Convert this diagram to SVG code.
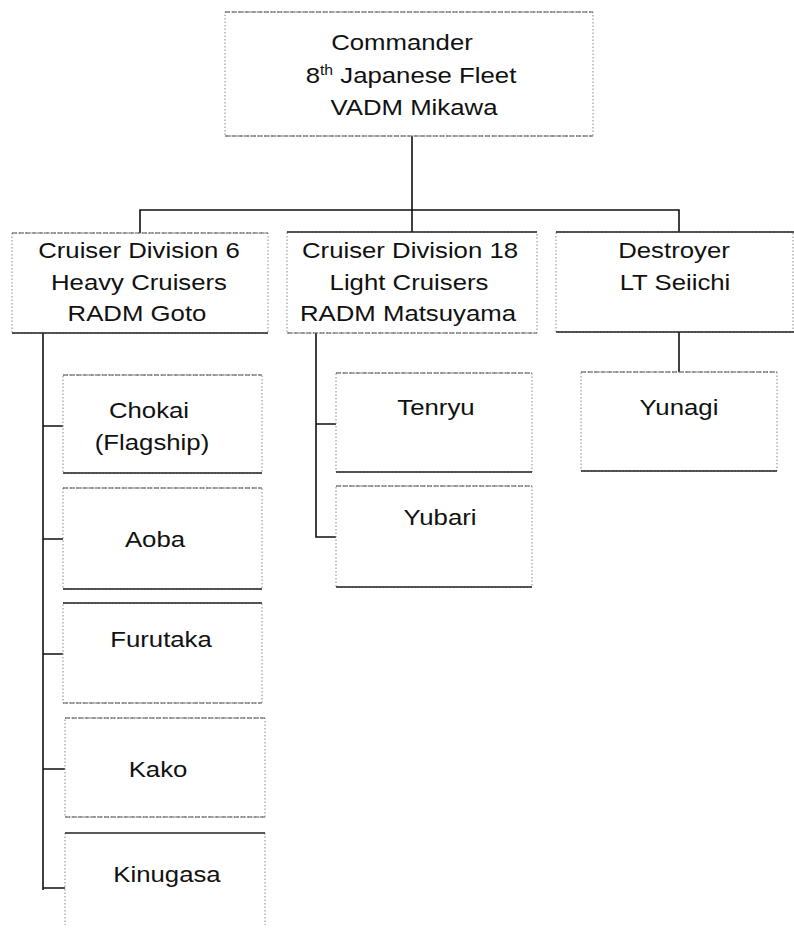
<svg xmlns="http://www.w3.org/2000/svg" width="794" height="928" viewBox="0 0 794 928">
<style>
.bg{fill:#fff}
.box{fill:none;stroke:#8a8a8a;stroke-width:1;stroke-dasharray:1.5 2}
.edge{stroke:#555;stroke-width:1.2;stroke-dasharray:5 1.5;fill:none}
.solid{stroke:#222;stroke-width:1.3;fill:none}
.con{stroke:#111;stroke-width:1.6;fill:none}
text{font-family:"Liberation Sans",Arial,sans-serif;font-size:23px;fill:#111;text-anchor:middle}
</style>
<rect class="bg" x="0" y="0" width="794" height="928"/>

<g id="connectors">
<path class="con" d="M412 136V232"/>
<path class="con" d="M140 233V210H679V232"/>
<path class="con" d="M43 333V890"/>
<path class="con" d="M43 426H63M43 539H63M43 654H63M43 769H65M43 888H65"/>
<path class="con" d="M316 333V537H336M316 424H336"/>
<path class="con" d="M679 332V372"/>
</g>

<g id="commander">
<rect class="box" x="225" y="12" width="368" height="124"/>
<path class="edge" d="M225 12H593M225 136H593"/>
<text transform="translate(402,50) scale(1.12,1)">Commander</text>
<text transform="translate(411,83) scale(1.12,1)">8<tspan font-size="14" dy="-8">th</tspan><tspan dy="8"> Japanese Fleet</tspan></text>
<text transform="translate(414,115) scale(1.12,1)">VADM Mikawa</text>
</g>

<g id="crudiv6">
<rect class="box" x="12" y="233" width="256" height="100"/>
<path class="edge" d="M12 233H268"/>
<path class="solid" d="M12 333H268"/>
<text transform="translate(139,258) scale(1.12,1)">Cruiser Division 6</text>
<text transform="translate(139,290) scale(1.12,1)">Heavy Cruisers</text>
<text transform="translate(137,321) scale(1.12,1)">RADM Goto</text>
</g>

<g id="crudiv18">
<rect class="box" x="287" y="232" width="250" height="101"/>
<path class="solid" d="M287 232H537"/>
<path class="edge" d="M287 333H537"/>
<text transform="translate(410,258) scale(1.12,1)">Cruiser Division 18</text>
<text transform="translate(409,290) scale(1.12,1)">Light Cruisers</text>
<text transform="translate(408,321) scale(1.12,1)">RADM Matsuyama</text>
</g>

<g id="destroyer">
<rect class="box" x="556" y="232" width="237" height="100"/>
<path class="solid" d="M556 232H794M556 332H794"/>
<text transform="translate(674,258) scale(1.12,1)">Destroyer</text>
<text transform="translate(675,290) scale(1.12,1)">LT Seiichi</text>
</g>

<g id="chokai">
<rect class="box" x="63" y="375" width="199" height="98"/>
<path class="edge" d="M63 375H262"/>
<path class="solid" d="M63 473H262"/>
<text transform="translate(149,418) scale(1.12,1)">Chokai</text>
<text transform="translate(152,450) scale(1.12,1)">(Flagship)</text>
</g>

<g id="aoba">
<rect class="box" x="63" y="488" width="199" height="101"/>
<path class="edge" d="M63 488H262"/>
<path class="solid" d="M63 589H262"/>
<text transform="translate(155,547) scale(1.12,1)">Aoba</text>
</g>

<g id="furutaka">
<rect class="box" x="63" y="603" width="199" height="100"/>
<path class="solid" d="M63 603H262"/>
<path class="edge" d="M63 703H262"/>
<text transform="translate(161,647) scale(1.12,1)">Furutaka</text>
</g>

<g id="kako">
<rect class="box" x="65" y="718" width="200" height="99"/>
<path class="edge" d="M65 718H265M65 817H265"/>
<text transform="translate(158,777) scale(1.12,1)">Kako</text>
</g>

<g id="kinugasa">
<path class="box" d="M65 833V925M265 833V925"/>
<path class="solid" d="M65 833H265"/>
<text transform="translate(167,882) scale(1.12,1)">Kinugasa</text>
</g>

<g id="tenryu">
<rect class="box" x="336" y="373" width="196" height="99"/>
<path class="edge" d="M336 373H532"/>
<path class="solid" d="M336 472H532"/>
<text transform="translate(436,415) scale(1.12,1)">Tenryu</text>
</g>

<g id="yubari">
<rect class="box" x="336" y="486" width="196" height="101"/>
<path class="edge" d="M336 486H532"/>
<path class="solid" d="M336 587H532"/>
<text transform="translate(440,525) scale(1.12,1)">Yubari</text>
</g>

<g id="yunagi">
<rect class="box" x="581" y="372" width="196" height="99"/>
<path class="edge" d="M581 372H777"/>
<path class="solid" d="M581 471H777"/>
<text transform="translate(679,415) scale(1.12,1)">Yunagi</text>
</g>
</svg>
